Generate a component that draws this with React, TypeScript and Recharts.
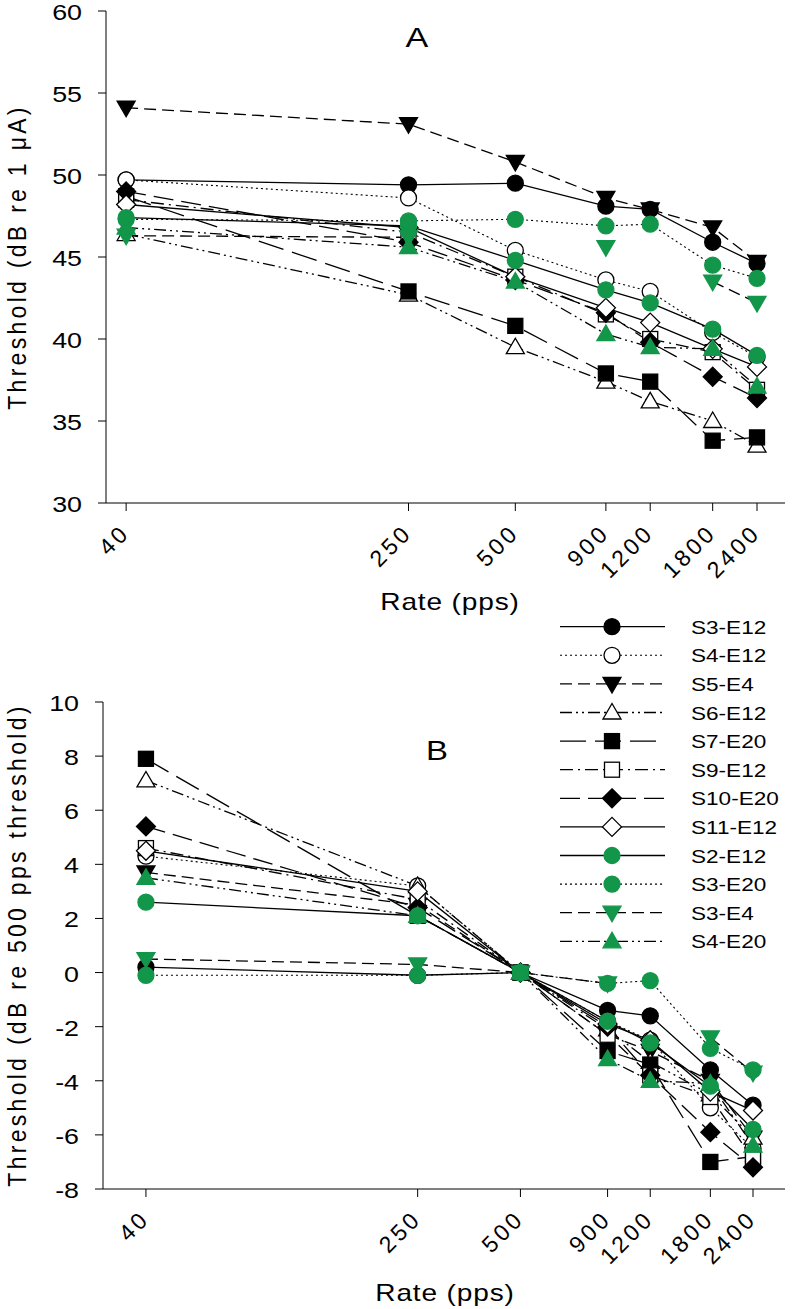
import { LineChart, Line, XAxis, YAxis, Legend, Label } from 'recharts'

const FONT = "'Liberation Sans', Arial, sans-serif"
const GREEN = '#12964a'

const rates = [40, 250, 500, 900, 1200, 1800, 2400]
const ticksA = [30, 35, 40, 45, 50, 55, 60]
const ticksB = [-8, -6, -4, -2, 0, 2, 4, 6, 8, 10]

const names = ['S3-E12', 'S4-E12', 'S5-E4', 'S6-E12', 'S7-E20', 'S9-E12', 'S10-E20', 'S11-E12', 'S2-E12', 'S3-E20', 'S3-E4', 'S4-E20']

// panel A: threshold in dB re 1 uA
const absS3E12 = [49.7, 49.4, 49.5, 48.1, 47.9, 45.9, 44.6]
const absS4E12 = [49.7, 48.6, 45.4, 43.6, 42.9, 40.4, 38.9]
const absS5E4 = [54.1, 53.1, 50.8, 48.6, 47.9, 46.8, 44.7]
const absS6E12 = [46.4, 42.7, 39.5, 37.4, 36.2, 35.0, 33.5]
const absS7E20 = [48.7, 42.9, 40.8, 37.9, 37.4, 33.8, 34.0]
const absS9E12 = [48.5, 46.5, 43.8, 41.5, 40.0, 39.2, 36.9]
const absS10E20 = [49.0, 45.9, 43.6, 41.6, 39.8, 37.7, 36.4]
const absS11E12 = [48.2, 46.8, 43.8, 41.9, 41.0, 39.4, 38.3]
const absS2E12 = [47.4, 46.9, 44.8, 43.0, 42.2, 40.6, 39.0]
const absS3E20 = [47.3, 47.2, 47.3, 46.9, 47.0, 44.5, 43.7]
const absS3E4 = [46.3, 46.2, null, 45.6, null, 43.5, 42.2]
const absS4E20 = [46.8, 45.6, 43.5, 40.3, 39.5, 39.4, 37.1]

// panel B: threshold re 500 pps threshold
const relS3E12 = [0.2, -0.1, 0, -1.4, -1.6, -3.6, -4.9]
const relS4E12 = [4.3, 3.2, 0, -1.8, -2.5, -5.0, -6.5]
const relS5E4 = [3.7, 2.5, 0, -2.3, -2.9, -4.0, -6.1]
const relS6E12 = [7.1, 3.2, 0, -2.1, -3.3, -4.5, -6.1]
const relS7E20 = [7.9, 2.1, 0, -2.9, -3.4, -7.0, -6.8]
const relS9E12 = [4.6, 2.7, 0, -2.3, -3.8, -4.6, -6.9]
const relS10E20 = [5.4, 2.4, 0, -2.0, -3.8, -5.9, -7.2]
const relS11E12 = [4.5, 3.0, 0, -1.9, -2.5, -4.4, -5.1]
const relS2E12 = [2.6, 2.1, 0, -1.8, -2.6, -4.2, -5.8]
const relS3E20 = [-0.1, -0.1, 0, -0.4, -0.3, -2.8, -3.6]
const relS3E4 = [0.5, 0.3, 0, -0.4, null, -2.4, -3.7]
const relS4E20 = [3.5, 2.1, 0, -3.2, -4.0, -4.1, -6.4]

const absSeries = [absS3E12, absS4E12, absS5E4, absS6E12, absS7E20, absS9E12, absS10E20, absS11E12, absS2E12, absS3E20, absS3E4, absS4E20]
const relSeries = [relS3E12, relS4E12, relS5E4, relS6E12, relS7E20, relS9E12, relS10E20, relS11E12, relS2E12, relS3E20, relS3E4, relS4E20]

type Shape = 'circle' | 'down' | 'up' | 'square' | 'diamond'
type Style = { shape: Shape; fill: string; stroke: string; dash?: string; width: number }

const styles: Style[] = [
  { shape: 'circle', fill: '#000', stroke: '#000', width: 1.3 },
  { shape: 'circle', fill: '#fff', stroke: '#000', dash: '2 3', width: 1.1 },
  { shape: 'down', fill: '#000', stroke: '#000', dash: '12 6', width: 1.3 },
  { shape: 'up', fill: '#fff', stroke: '#000', dash: '12 4 2 4 2 4', width: 1.3 },
  { shape: 'square', fill: '#000', stroke: '#000', dash: '26 9', width: 1.3 },
  { shape: 'square', fill: '#fff', stroke: '#000', dash: '13 5 2 5', width: 1.3 },
  { shape: 'diamond', fill: '#000', stroke: '#000', dash: '20 8', width: 1.3 },
  { shape: 'diamond', fill: '#fff', stroke: '#000', width: 1.3 },
  { shape: 'circle', fill: GREEN, stroke: GREEN, width: 1.3 },
  { shape: 'circle', fill: GREEN, stroke: GREEN, dash: '2 3', width: 1.1 },
  { shape: 'down', fill: GREEN, stroke: GREEN, dash: '12 6', width: 1.3 },
  { shape: 'up', fill: GREEN, stroke: GREEN, dash: '12 4 2 4 2 4', width: 1.3 },
]

const keyOf = (i: number) => 'k' + i

const buildRows = (series: (number | null)[][]) =>
  rates.map((rate, r) => {
    const row: Record<string, number | null> = { rate }
    series.forEach((s, i) => {
      row[keyOf(i)] = s[r]
    })
    return row
  })

const dataA = buildRows(absSeries)
const dataB = buildRows(relSeries)

function Marker({ cx, cy, st }: { cx: number; cy: number; st: Style }) {
  const p = { fill: st.fill, stroke: st.stroke, strokeWidth: 1.3 }
  if (st.shape === 'circle') return <circle cx={cx} cy={cy} r={8} {...p} />
  if (st.shape === 'square') return <rect x={cx - 7.5} y={cy - 7.5} width={15} height={15} {...p} />
  if (st.shape === 'diamond')
    return <polygon points={`${cx},${cy - 9.5} ${cx + 9.5},${cy} ${cx},${cy + 9.5} ${cx - 9.5},${cy}`} {...p} />
  if (st.shape === 'down')
    return <polygon points={`${cx - 9},${cy - 6.5} ${cx + 9},${cy - 6.5} ${cx},${cy + 9}`} {...p} />
  return <polygon points={`${cx - 9},${cy + 6.5} ${cx + 9},${cy + 6.5} ${cx},${cy - 9}`} {...p} />
}

// text in the source figure is drawn wide, so stretch it a little horizontally
const WIDE = 1.22

function RateTick(props: any) {
  const { x, y, payload } = props
  const tx = x + 5
  const ty = y + 23
  return (
    <text x={tx} y={ty} transform={`rotate(-45 ${tx} ${ty})`} textAnchor="end" fontSize={23} fill="#000"
      style={{ letterSpacing: 3.3, fontFamily: FONT }}>
      {payload.value}
    </text>
  )
}

function ValueTick(props: any) {
  const { x, y, payload } = props
  return (
    <text transform={`translate(${x + 1},${y + 9}) scale(${WIDE},1)`} textAnchor="end" fontSize={22} fill="#000"
      style={{ fontFamily: FONT }}>
      {payload.value}
    </text>
  )
}

function WideText({ x, y, size, spacing = 0, children }: { x: number; y: number; size: number; spacing?: number; children: any }) {
  return (
    <text transform={`translate(${x},${y}) scale(${WIDE},1)`} textAnchor="middle" fontSize={size} fill="#000"
      style={{ letterSpacing: spacing, fontFamily: FONT }}>
      {children}
    </text>
  )
}

function SideTitle({ x, y, children }: { x: number; y: number; children: any }) {
  return (
    <text transform={`translate(${x},${y}) scale(1.1,1) rotate(-90)`} textAnchor="middle" fontSize={23} fill="#000"
      style={{ letterSpacing: 3.3, fontFamily: FONT }}>
      {children}
    </text>
  )
}

function renderLines(prefix: string) {
  return styles.map((st, i) => (
    <Line
      key={prefix + i}
      dataKey={keyOf(i)}
      name={names[i]}
      type="linear"
      stroke="#000"
      strokeWidth={st.width}
      strokeDasharray={st.dash}
      connectNulls={false}
      isAnimationActive={false}
      activeDot={false}
      dot={(d: any) =>
        d.cx == null || d.cy == null || d.value == null ? (
          <g key={prefix + i + '-' + d.index} />
        ) : (
          <g key={prefix + i + '-' + d.index}>
            <Marker cx={d.cx} cy={d.cy} st={st} />
          </g>
        )
      }
    />
  ))
}

function LegendBox() {
  return (
    <svg width={238} height={345} style={{ display: 'block' }}>
      {styles.map((st, i) => {
        const cy = 16.7 + 28.6 * i
        return (
          <g key={i}>
            <line x1={5} x2={110} y1={cy} y2={cy} stroke="#000" strokeWidth={st.width} strokeDasharray={st.dash} />
            <Marker cx={57} cy={cy} st={st} />
            <text transform={`translate(136,${cy + 7}) scale(${WIDE},1)`} fontSize={18.5} fill="#000"
              style={{ fontFamily: FONT }}>
              {names[i]}
            </text>
          </g>
        )
      })}
    </svg>
  )
}

export default function App() {
  return (
    <div style={{ position: 'absolute', left: 0, top: 0, width: 793, height: 1309, background: '#fff', fontFamily: FONT }}>
      <div style={{ position: 'absolute', left: 0, top: 0 }}>
        <LineChart width={793} height={630} data={dataA} margin={{ top: 11, right: 8, left: 46, bottom: 67 }}>
          <XAxis dataKey="rate" type="number" scale="log" domain={[35.1, 2878]} ticks={rates} allowDataOverflow
            interval={0} tickSize={8} tickMargin={0} height={60} stroke="#000" tick={<RateTick />}>
            <Label content={() => <WideText x={450} y={610} size={23} spacing={0.7}>Rate (pps)</WideText>} />
          </XAxis>
          <YAxis type="number" domain={[30, 60]} ticks={ticksA} allowDataOverflow width={60} tickSize={8} tickMargin={17}
            stroke="#000" tick={<ValueTick />}>
            <Label content={() => (
              <g>
                <SideTitle x={26} y={257}>Threshold (dB re 1 μA)</SideTitle>
                <WideText x={417} y={47} size={28}>A</WideText>
              </g>
            )} />
          </YAxis>
          {renderLines('a')}
        </LineChart>
      </div>
      <div style={{ position: 'absolute', left: 0, top: 590 }}>
        <LineChart width={793} height={719} data={dataB} margin={{ top: 112, right: 8, left: 43, bottom: 60 }}>
          <XAxis dataKey="rate" type="number" scale="log" domain={[29.94, 2978]} ticks={rates} allowDataOverflow
            interval={0} tickSize={8} tickMargin={0} height={60} stroke="#000" tick={<RateTick />}>
            <Label content={() => <WideText x={445} y={711} size={23} spacing={0.7}>Rate (pps)</WideText>} />
          </XAxis>
          <YAxis type="number" domain={[-8, 10]} ticks={ticksB} allowDataOverflow width={60} tickSize={8} tickMargin={17}
            stroke="#000" tick={<ValueTick />}>
            <Label content={() => (
              <g>
                <SideTitle x={26} y={355}>Threshold (dB re 500 pps threshold)</SideTitle>
                <WideText x={437} y={170} size={27}>B</WideText>
              </g>
            )} />
          </YAxis>
          <Legend layout="horizontal" verticalAlign="middle" align="center" content={() => <LegendBox />}
            wrapperStyle={{ left: 555, top: 20, width: 238, height: 345 }} />
          {renderLines('b')}
        </LineChart>
      </div>
    </div>
  )
}
